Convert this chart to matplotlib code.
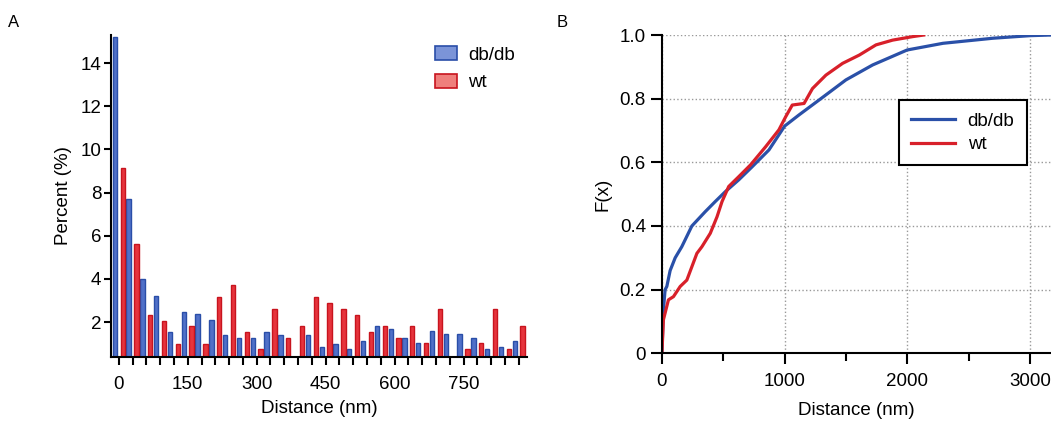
import numpy as np
import matplotlib.pyplot as plt
from matplotlib.patches import Patch
from matplotlib.ticker import MultipleLocator, FixedLocator

plt.rcParams['font.family'] = ['Liberation Sans', 'DejaVu Sans']

# --- panel A: histogram, 30 nm bins ---
bin_centers = np.arange(30) * 30
dbdb_pct = [15.2, 7.70, 3.99, 3.19, 1.53, 2.49, 2.37, 2.11, 1.41, 1.29,
            1.29, 1.54, 1.42, 0.0, 1.42, 0.87, 1.01, 0.74, 1.15, 1.84,
            1.69, 1.27, 1.02, 1.57, 1.43, 1.43, 1.27, 0.74, 0.87, 1.15]
wt_pct = [9.15, 5.61, 2.35, 2.04, 0.99, 1.80, 0.99, 3.18, 3.70, 1.53,
          0.74, 2.62, 1.27, 1.80, 3.18, 2.89, 2.63, 2.35, 1.54, 1.81,
          1.27, 1.81, 1.02, 2.63, 0.0, 0.74, 1.02, 2.63, 0.74, 1.81]
xtick_labels_a = [0, 150, 300, 450, 600, 750]

# --- panel B: cumulative distributions ---
dbdb_x = [0, 12, 26, 40, 67, 108, 162, 244, 353, 435, 517, 626, 735, 872,
          1000, 1117, 1281, 1499, 1717, 1998, 2290, 2699, 2999, 3170]
dbdb_F = [0, 0.136, 0.20, 0.21, 0.26, 0.30, 0.335, 0.40, 0.445, 0.477, 0.508,
          0.545, 0.586, 0.639, 0.714, 0.749, 0.796, 0.859, 0.906, 0.953,
          0.974, 0.990, 0.998, 1.0]
wt_x = [0, 12, 53, 94, 149, 203, 244, 285, 326, 394, 449, 490, 544, 626, 722,
        845, 953, 1008, 1062, 1158, 1227, 1336, 1472, 1608, 1744, 1880, 2043,
        2133]
wt_F = [0, 0.105, 0.168, 0.178, 0.21, 0.23, 0.272, 0.314, 0.335, 0.377, 0.429,
        0.477, 0.524, 0.555, 0.592, 0.649, 0.702, 0.743, 0.78, 0.785, 0.832,
        0.874, 0.911, 0.937, 0.969, 0.984, 0.995, 1.0]

blue_face, blue_edge = '#5070c8', '#2a4ea8'
red_face, red_edge = '#e6343c', '#c8141e'
blue_line, red_line = '#2a50a8', '#d8202a'
fs = 13.5

fig = plt.figure(figsize=(10.51, 4.22), dpi=100)

# panel A
ax1 = fig.add_axes([0.1056, 0.1547, 0.3958, 0.7623])
off = 8.5
ax1.bar(bin_centers - off, dbdb_pct, width=9.5, color=blue_face,
        edgecolor=blue_edge, linewidth=1.0)
ax1.bar(bin_centers + off, wt_pct, width=9.5, color=red_face,
        edgecolor=red_edge, linewidth=1.0)
ax1.set_xlim(-17, 888)
ax1.set_ylim(0.4, 15.3)
ax1.xaxis.set_major_locator(FixedLocator(bin_centers))
ax1.set_xticklabels([str(v) if v in xtick_labels_a else '' for v in bin_centers])
ax1.set_yticks([2, 4, 6, 8, 10, 12, 14])
ax1.tick_params(axis='both', direction='out', width=1.5, labelsize=fs)
ax1.tick_params(axis='x', length=6, pad=8)
ax1.tick_params(axis='y', length=5, pad=2)
for s in ['top', 'right']:
    ax1.spines[s].set_visible(False)
for s in ['left', 'bottom']:
    ax1.spines[s].set_linewidth(1.5)
ax1.set_xlabel('Distance (nm)', fontsize=fs, labelpad=5)
ax1.set_ylabel('Percent (%)', fontsize=fs, labelpad=6)
handles = [Patch(facecolor='#7b94d8', edgecolor=blue_edge, linewidth=1.2, label='db/db'),
           Patch(facecolor='#ef7f7c', edgecolor=red_edge, linewidth=1.2, label='wt')]
ax1.legend(handles=handles, loc='upper left', bbox_to_anchor=(0.78, 0.965),
           frameon=False, fontsize=fs, handlelength=1.15, handleheight=0.75,
           handletextpad=0.6, labelspacing=0.55, borderpad=0, borderaxespad=0)

# panel B
ax2 = fig.add_axes([0.6298, 0.1628, 0.3702, 0.7542])
ax2.plot(dbdb_x, dbdb_F, color=blue_line, lw=2.3, label='db/db')
ax2.plot(wt_x, wt_F, color=red_line, lw=2.3, label='wt')
ax2.set_xlim(0, 3170)
ax2.set_ylim(0, 1.0)
ax2.set_xticks([0, 1000, 2000, 3000])
ax2.xaxis.set_minor_locator(MultipleLocator(500))
ax2.set_yticks([0, 0.2, 0.4, 0.6, 0.8, 1.0])
ax2.set_yticklabels(['0', '0.2', '0.4', '0.6', '0.8', '1.0'])
ax2.grid(True, which='major', linestyle=':', color='#999999', linewidth=1.0)
ax2.tick_params(axis='both', which='major', direction='out', width=1.5,
                length=8, labelsize=fs)
ax2.tick_params(axis='x', which='minor', direction='out', width=1.5, length=6)
ax2.tick_params(axis='x', which='major', pad=6)
for s in ['top', 'right']:
    ax2.spines[s].set_visible(False)
for s in ['left', 'bottom']:
    ax2.spines[s].set_linewidth(1.5)
ax2.set_xlabel('Distance (nm)', fontsize=fs, labelpad=9)
ax2.set_ylabel('F(x)', fontsize=fs, labelpad=6)
leg = ax2.legend(loc='upper left', bbox_to_anchor=(0.61, 0.795), fontsize=fs,
                 fancybox=False, framealpha=1, edgecolor='black',
                 handlelength=2.3, handletextpad=0.7, borderpad=0.65,
                 labelspacing=0.35, borderaxespad=0)
leg.get_frame().set_linewidth(1.5)

fig.text(0.008, 0.935, 'A', fontsize=12)
fig.text(0.530, 0.935, 'B', fontsize=12)

fig.savefig('out.png', dpi=100)
